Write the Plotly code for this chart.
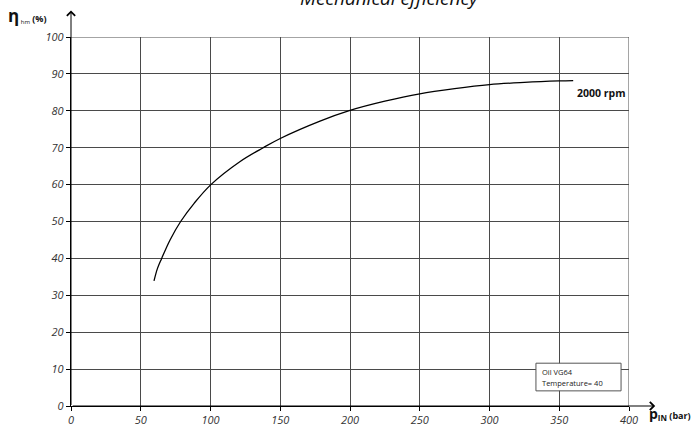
import plotly.graph_objects as go

# Data (2000 rpm curve)
p_in = [59.5, 62, 65, 71, 78.6, 88.4, 100.3, 121, 137.8, 150, 178.5, 200, 225, 250, 275, 300, 325, 350, 360]
eta_hm = [33.9, 37.3, 40.0, 45.0, 50.0, 55.0, 60.0, 66.2, 70.0, 72.5, 77.2, 80.1, 82.6, 84.6, 86.0, 87.1, 87.7, 88.1, 88.2]

x_ticks = [0, 50, 100, 150, 200, 250, 300, 350, 400]
y_ticks = [0, 10, 20, 30, 40, 50, 60, 70, 80, 90, 100]

FONT = "Open Sans"
GRID = "#4a4a4a"

fig = go.Figure()
fig.add_trace(go.Scatter(
    x=p_in, y=eta_hm, mode="lines",
    line=dict(color="black", width=1.3, shape="spline", smoothing=1.0),
    showlegend=False, hoverinfo="skip",
))

tickfont = dict(family=FONT, size=11, color="#333333", style="italic")

fig.update_layout(
    width=693, height=432,
    margin=dict(l=71, r=64, t=37, b=26, autoexpand=False),
    paper_bgcolor="white", plot_bgcolor="white",
    xaxis=dict(range=[0, 400], tickvals=x_ticks, ticktext=[str(v) for v in x_ticks],
               showgrid=True, gridcolor=GRID, gridwidth=1, zeroline=False,
               showline=True, linecolor="black", linewidth=1.3,
               ticks="outside", ticklen=4, tickcolor="black", automargin=False,
               tickfont=tickfont, fixedrange=True),
    yaxis=dict(range=[0, 100], tickvals=y_ticks, ticktext=[str(v) for v in y_ticks],
               showgrid=True, gridcolor=GRID, gridwidth=1, zeroline=False,
               showline=True, linecolor="black", linewidth=1.3,
               ticks="outside", ticklen=4, tickcolor="black", automargin=False,
               tickfont=tickfont, fixedrange=True),
    font=dict(family=FONT),
)

# frame top/right
fig.add_shape(type="line", xref="x", yref="y", x0=0, x1=400, y0=100, y1=100,
              line=dict(color=GRID, width=1))
fig.add_shape(type="line", xref="x", yref="y", x0=400, x1=400, y0=0, y1=100,
              line=dict(color=GRID, width=1))

# info box
fig.add_shape(type="rect", xref="x", yref="y", x0=333.3, x1=394.3, y0=4.1, y1=11.6,
              fillcolor="white", line=dict(color="#555555", width=1), layer="above")
fig.add_annotation(xref="x", yref="y", x=336, y=9.2, xanchor="left", yanchor="middle",
                   text="Oil VG64", align="left", showarrow=False,
                   font=dict(family=FONT, size=7.5, color="#222222"))
fig.add_annotation(xref="x", yref="y", x=336, y=6.2, xanchor="left", yanchor="middle",
                   text="Temperature= 40", align="left", showarrow=False,
                   font=dict(family=FONT, size=7.5, color="#222222"))

# curve label
fig.add_annotation(xref="x", yref="y", x=361, y=84.7, xanchor="left", yanchor="middle",
                   text="<b>2000 rpm</b>", showarrow=False,
                   font=dict(family=FONT, size=10.5, color="#111111"))

# axis arrows
fig.add_annotation(xref="paper", yref="paper", x=1.047, y=0, ax=-584, ay=0,
                   axref="pixel", ayref="pixel", text="", showarrow=True,
                   arrowhead=4, arrowsize=1.6, arrowwidth=1, arrowcolor="black")
fig.add_annotation(xref="paper", yref="paper", x=0, y=1.072, ax=0, ay=396,
                   axref="pixel", ayref="pixel", text="", showarrow=True,
                   arrowhead=4, arrowsize=1.6, arrowwidth=1, arrowcolor="black")

# axis titles
fig.add_annotation(xref="paper", yref="paper", x=-0.117, y=1.058, xanchor="left", yanchor="middle",
                   text="<b><span style='font-size:17px'>η</span></b>"
                        "<sub><span style='font-size:6px'> hm</span></sub>"
                        "<b><span style='font-size:9px'> (%)</span></b>",
                   showarrow=False, font=dict(family=FONT, size=9, color="#111111"))
fig.add_annotation(xref="paper", yref="paper", x=1.032, y=-0.02, xanchor="left", yanchor="middle",
                   text="<b><span style='font-size:14px'>p</span></b>"
                        "<sub><b><span style='font-size:8px'>IN</span></b></sub>"
                        "<b><span style='font-size:9px'> (bar)</span></b>",
                   showarrow=False, font=dict(family=FONT, size=9, color="#111111"))

# title (clipped at the top as in the reference)
fig.add_annotation(xref="paper", yref="paper", x=0.570, y=1.0646, xanchor="center", yanchor="bottom",
                   text="Mechanical efficiency", showarrow=False,
                   font=dict(family=FONT, size=19, color="#111111", style="italic"))

fig.write_html("out.html", config={"displayModeBar": False},
               post_script="document.body.style.margin='0';document.body.style.overflow='hidden';")
